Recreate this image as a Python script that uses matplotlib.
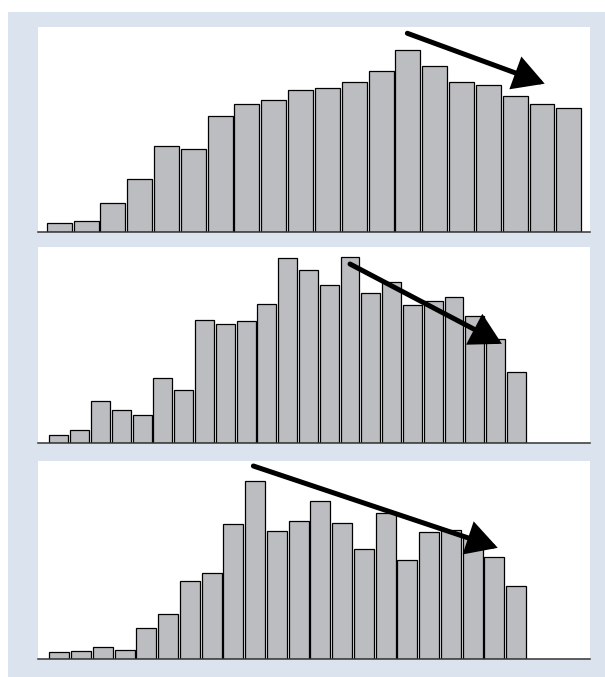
import matplotlib
matplotlib.use('Agg')  # no display
import matplotlib.pyplot as plt
from matplotlib.patches import Rectangle

# bar heights (panel units)
top_vals = [9, 10.3, 29, 52.3, 86, 82.3, 116, 127.3, 131.3, 142,
            143.3, 150, 161, 181.7, 165.7, 150, 146.3, 135.3, 127.3, 124]
mid_vals = [8.3, 13.3, 42, 33, 28.3, 65, 53, 123.7, 119, 122.7, 139, 185,
            173, 158, 186.3, 150, 161.3, 138.3, 142, 146.3, 127, 104.3, 71]
bot_vals = [7.3, 8, 12, 9, 31, 45.3, 78.7, 86.7, 135.7, 178.7, 128.3,
            138.7, 158, 136.3, 110.7, 146.7, 99.3, 127.7, 129.7, 122,
            102.3, 73]

# trend arrows: (x tail, y tail, x tip, y tip)
top_arrow = [12.98, 198.4, 18.1, 148.0]
mid_arrow = [14.0, 179.3, 21.3, 99.5]
bot_arrow = [8.92, 193.3, 20.15, 111.5]

bg_blue = '#dbe4ee'
bar_grey = '#bcbdc1'

fig = plt.figure(figsize=(6.05, 6.77), dpi=100, facecolor='white')
fig.patches.append(Rectangle((8 / 605, 0), 1, 1 - 12 / 677, transform=fig.transFigure,
                             facecolor=bg_blue, edgecolor='none', zorder=-10))

# axes boxes [left, bottom, width, height], xlim, ylim top
panels = [
    (top_vals, top_arrow, [0.0633, 0.6578, 0.9119, 0.3019], (-0.78, 19.79), 204.4, 0.93),
    (mid_vals, mid_arrow, [0.0633, 0.3452, 0.9119, 0.2895], (-0.99, 25.54), 196, 0.91),
    (bot_vals, bot_arrow, [0.0633, 0.0261, 0.9119, 0.2934], (-0.965, 24.39), 198.6, 0.92),
]

for vals, arr, box, xl, ytop, w in panels:
    ax = fig.add_axes(box)
    ax.set_facecolor('white')
    ax.bar(range(len(vals)), vals, width=w, color=bar_grey,
           edgecolor='black', linewidth=0.9, zorder=2)
    ax.set_xlim(*xl)
    ax.set_ylim(0, ytop)
    for s in ['top', 'left', 'right']:
        ax.spines[s].set_visible(False)
    ax.spines['bottom'].set_color('#333333')
    ax.spines['bottom'].set_linewidth(1.1)
    ax.spines['bottom'].set_zorder(3)
    ax.set_xticks([])
    ax.set_yticks([])
    ax.annotate('', xy=(arr[2], arr[3]), xytext=(arr[0], arr[1]),
                arrowprops=dict(arrowstyle='-|>,head_length=17,head_width=9.5',
                                mutation_scale=1, lw=3.6, color='black',
                                shrinkA=0, shrinkB=0, joinstyle='miter'),
                zorder=4)

plt.savefig('out.png', dpi=100, facecolor=fig.get_facecolor())
